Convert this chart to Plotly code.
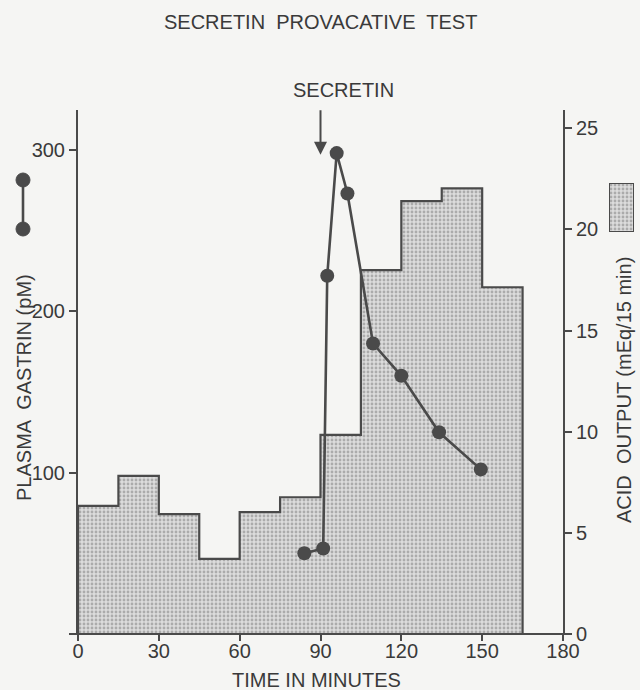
import plotly.graph_objects as go

W, H = 640, 690

# ---- data ----
acid_edges = [0, 15, 30, 45, 60, 75, 90, 105, 120, 135, 150, 165]
acid_output = [6.33, 7.82, 5.93, 3.71, 6.02, 6.76, 9.84, 17.99, 21.4, 22.03, 17.14]
gastrin_time = [84, 91, 92.5, 96, 100, 109.5, 120, 134, 149.5]
gastrin_pm = [50, 53, 222, 298, 273, 180, 160, 125, 102]
x_ticks = [0, 30, 60, 90, 120, 150, 180]
left_ticks = [100, 200, 300]
right_ticks = [0, 5, 10, 15, 20, 25]
secretin_time = 90

INK = "#4a4a4a"
TXT = "#3a3a3a"
BG = "#f5f5f3"
FONT = "Liberation Sans, Arial, sans-serif"
FS = 20

def px(xp):
    return xp / W

def py(yp):
    return 1 - yp / H

# main plot area in pixels
L, R, T, B = 78, 563, 110, 634

# step outline of acid output
step_x = [acid_edges[0]] + acid_edges[:-1] + [acid_edges[-1], acid_edges[-1]]
step_y = [0] + acid_output + [acid_output[-1], 0]

pattern = dict(shape=".", fgcolor="#7a7a7a", bgcolor="#dcdcdc", size=4, solidity=0.4)

fig = go.Figure()

# acid output on base axis (right side) so gastrin (overlaying) is drawn on top
fig.add_trace(go.Scatter(
    x=step_x, y=step_y, mode="lines", line=dict(shape="hv", color=INK, width=2.2),
    fill="tozeroy", fillpattern=pattern, fillcolor="#dcdcdc",
    yaxis="y", hoverinfo="skip", showlegend=False))

fig.add_trace(go.Scatter(
    x=gastrin_time, y=gastrin_pm, mode="lines+markers",
    line=dict(color=INK, width=2.6),
    marker=dict(size=14, color=INK),
    yaxis="y2", showlegend=False, cliponaxis=False))

# legend swatch for acid output
fig.add_trace(go.Scatter(
    x=[0, 1, 1, 0, 0], y=[0, 0, 1, 1, 0], mode="lines", fill="toself",
    fillpattern=pattern, fillcolor="#dcdcdc",
    line=dict(color=INK, width=2), xaxis="x3", yaxis="y3",
    showlegend=False, hoverinfo="skip"))

axis_common = dict(showgrid=False, zeroline=False, showline=True, linecolor=INK,
                   linewidth=2, ticks="outside", ticklen=7, tickwidth=2,
                   tickcolor=INK, tickfont=dict(size=FS, color=TXT, family=FONT),
                   automargin=False)

fig.update_layout(
    width=W, height=H,
    margin=dict(l=0, r=0, t=0, b=0),
    paper_bgcolor=BG, plot_bgcolor=BG,
    font=dict(family=FONT, color=TXT),
    xaxis=dict(domain=[px(L), px(R)], range=[0, 180], tickvals=x_ticks,
               anchor="y", ticklabelstandoff=-7,
               **{**axis_common, "showline": False, "ticklen": 6}),
    yaxis=dict(domain=[py(B), py(T)], range=[0, 25.9], tickvals=right_ticks,
               anchor="x", side="right", **axis_common),
    yaxis2=dict(domain=[py(B), py(T)], range=[0, 324.7], tickvals=left_ticks,
                overlaying="y", side="left", anchor="x", **axis_common),
    xaxis3=dict(domain=[px(609), px(634)], range=[0, 1], visible=False, anchor="y3"),
    yaxis3=dict(domain=[py(232), py(183)], range=[0, 1], visible=False, anchor="x3"),
)

shapes = []
# x axis line extending a bit beyond the y axes
shapes.append(dict(type="line", xref="paper", yref="paper",
                   x0=px(L - 9), x1=px(R + 6), y0=py(B), y1=py(B),
                   line=dict(color=INK, width=2)))
# gastrin legend glyph
shapes.append(dict(type="line", xref="paper", yref="paper",
                   x0=px(23), x1=px(23), y0=py(180), y1=py(229),
                   line=dict(color=INK, width=2.6)))
for cy in (180, 229):
    shapes.append(dict(type="circle", xref="paper", yref="paper",
                       xsizemode="pixel", ysizemode="pixel",
                       xanchor=px(23), yanchor=py(cy),
                       x0=-7, x1=7, y0=-7, y1=7,
                       fillcolor=INK, line=dict(color=INK, width=1)))
fig.update_layout(shapes=shapes)

def label(text, x, y, angle=0):
    return dict(text=text, xref="paper", yref="paper", x=px(x), y=py(y),
                xanchor="center", yanchor="middle", showarrow=False,
                textangle=angle, font=dict(size=FS, color=TXT, family=FONT))

ann = [
    label("SECRETIN  PROVACATIVE  TEST", 320, 22),
    label("SECRETIN", 343, 90),
    label("TIME IN MINUTES", 316, 680),
    label("PLASMA  GASTRIN (pM)", 24, 388, -90),
    label("ACID  OUTPUT (mEq/15 min)", 624, 390, -90),
    dict(text="", x=secretin_time, y=297, xref="x", yref="y2",
         ax=0, ay=-46, showarrow=True, arrowhead=2, arrowsize=1.3,
         arrowwidth=2, arrowcolor=INK),
]
fig.update_layout(annotations=ann)

fig.write_html("out.html")
